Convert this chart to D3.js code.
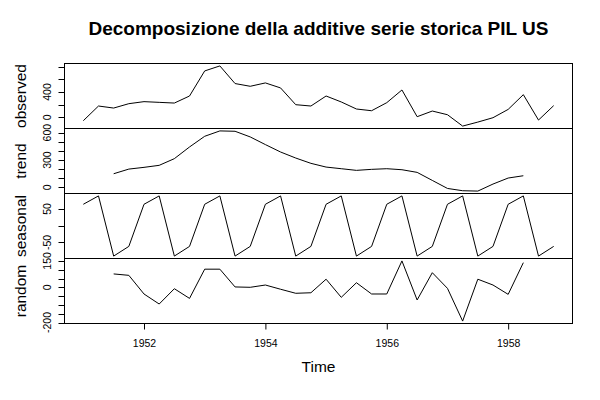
<!DOCTYPE html>
<html><head><meta charset="utf-8">
<script src="https://cdn.jsdelivr.net/npm/d3@7/dist/d3.min.js"></script>
<style>body{margin:0;background:#fff} svg{display:block;font-family:"Liberation Sans",Arial,Helvetica,sans-serif}</style>
</head><body><svg id="c" width="600" height="400"></svg>
<script>
// Quarterly time index
const time = [1951.00,1951.25,1951.50,1951.75,1952.00,1952.25,1952.50,1952.75,
              1953.00,1953.25,1953.50,1953.75,1954.00,1954.25,1954.50,1954.75,
              1955.00,1955.25,1955.50,1955.75,1956.00,1956.25,1956.50,1956.75,
              1957.00,1957.25,1957.50,1957.75,1958.00,1958.25,1958.50,1958.75];
const observed = [-52,179,147,216,248,237,226,337,732,811,533,490,543,464,200,179,
                  337,243,132,105,232,432,11,100,42,-137,-74,-5,126,358,-42,185];
const trend = [null,null,150,201,220,242,315,443,560,619,615,553,469,388,322,264,
               223,205,187,198,205,194,165,77,-11,-36,-40,37,103,128,null,null];
const seasonal = [64,89,-91,-62,64,89,-91,-62,64,89,-91,-62,64,89,-91,-62,
                  64,89,-91,-62,64,89,-91,-62,64,89,-91,-62,64,89,-91,-62];
const random = [null,null,76,68,-38,-95,-8,-63,103,103,2,0,13,-11,-34,-31,
                46,-57,26,-38,-38,150,-72,83,-6,-192,46,13,-40,140,null,null];

const panelNames = ["observed","trend","seasonal","random"];
const xTicks = [1952,1954,1956,1958];
const obsTicks = [0,200,400,600,800], obsLabels = [0,400];
const trendTicks = [0,100,200,300,400,500,600], trendLabels = [0,300,600];
const seasTicks = [-50,0,50], seasLabels = [-50,50];
const randTicks = [-200,-150,-100,-50,0,50,100,150], randLabels = [-200,0,150];

const title = "Decomposizione della additive serie storica PIL US";
const xLabel = "Time";

const svg = d3.select("#c");
const left = 64.5, right = 572.5, top0 = 63.5, ph = 65;

const tr = time[time.length-1] - time[0];
const x = d3.scaleLinear().domain([time[0]-0.04*tr, time[time.length-1]+0.04*tr]).range([left, right]);

const panels = [
  {name:panelNames[0], data:observed, ticks:obsTicks, labels:obsLabels},
  {name:panelNames[1], data:trend, ticks:trendTicks, labels:trendLabels},
  {name:panelNames[2], data:seasonal, ticks:seasTicks, labels:seasLabels},
  {name:panelNames[3], data:random, ticks:randTicks, labels:randLabels}
];

panels.forEach((p, i) => {
  const y0 = top0 + i*ph, y1 = y0 + ph;
  const vals = p.data.filter(v => v !== null);
  const mn = d3.min(vals), mx = d3.max(vals), r = mx - mn;
  const y = d3.scaleLinear().domain([mn-0.04*r, mx+0.04*r]).range([y1, y0]);

  const line = d3.line().defined(d => d[1] !== null).x(d => x(d[0])).y(d => y(d[1]));
  svg.append("path").datum(time.map((t,k)=>[t,p.data[k]]))
    .attr("d", line).attr("fill","none").attr("stroke","#000").attr("stroke-width",1);

  const g = svg.append("g").attr("transform", `translate(${left},0)`);
  const tk = p.ticks;
  g.append("line").attr("x1",0).attr("x2",0).attr("y1",y(tk[0])).attr("y2",y(tk[tk.length-1])).attr("stroke","#000");
  g.selectAll("line.t").data(tk).enter().append("line")
    .attr("x1",-6).attr("x2",0).attr("y1",d=>Math.round(y(d))+0.5).attr("y2",d=>Math.round(y(d))+0.5).attr("stroke","#000");
  g.selectAll("text").data(p.labels).enter().append("text")
    .attr("transform", d => `translate(${50.8-left},${y(d)}) rotate(-90)`)
    .attr("text-anchor","middle").attr("font-size","10.5px").attr("fill","#000")
    .text(d => d < 0 ? "-" + Math.abs(d) : d);

  svg.append("text").attr("transform", `translate(25.5,${(y0+y1)/2}) rotate(-90)`)
    .attr("text-anchor","middle").attr("font-size","15.5px").attr("fill","#000").text(p.name);

  svg.append("rect").attr("x",left).attr("y",y0).attr("width",right-left).attr("height",ph)
    .attr("fill","none").attr("stroke","#000").attr("stroke-width",1);
});

const bottom = top0 + 4*ph;
const xa = d3.axisBottom(x).tickValues(xTicks).tickSize(6).tickPadding(10).tickFormat(d3.format("d"));
const gx = svg.append("g").attr("transform", `translate(0,${bottom})`).call(xa);
gx.select(".domain").attr("d", `M${x(xTicks[0])},0H${x(xTicks[xTicks.length-1])}`);
gx.selectAll("text").attr("font-size","10.5px").attr("font-family",null).attr("fill","#000");
gx.selectAll("line,path").attr("stroke","#000");

svg.append("text").attr("x",(left+right)/2).attr("y",372).attr("text-anchor","middle")
  .attr("font-size","15.5px").attr("fill","#000").text(xLabel);

svg.append("text").attr("x",(left+right)/2).attr("y",35).attr("text-anchor","middle")
  .attr("font-size","19px").attr("font-weight","bold").attr("fill","#000").text(title);
</script></body></html>
